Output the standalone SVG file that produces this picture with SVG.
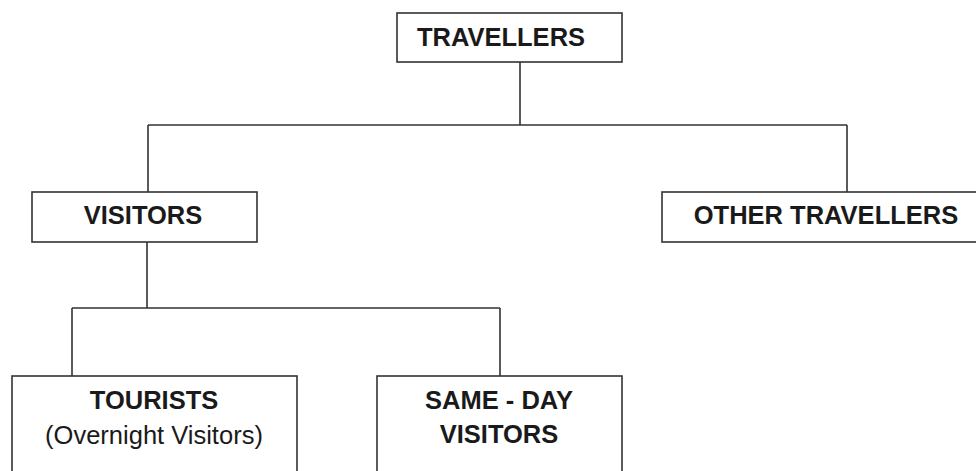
<svg xmlns="http://www.w3.org/2000/svg" width="976" height="471" viewBox="0 0 976 471">
<style>
.box{fill:#fff;stroke:#333;stroke-width:1.6}
.ln{fill:none;stroke:#333;stroke-width:1.6}
.t{font-family:"Liberation Sans",Arial,sans-serif;font-size:25.5px;fill:#1a1a1a;text-anchor:middle}
.b{font-weight:bold}
</style>
<rect width="976" height="471" fill="#fff"/>
<g id="connectors">
<path class="ln" d="M520 62V125M148 125H847M148 125V192M847 125V192"/>
<path class="ln" d="M147 242V308M72 308H500M72 308V376M500 308V376"/>
</g>
<g id="travellers">
<rect class="box" x="397" y="13" width="225" height="49"/>
<text class="t b" x="501" y="46">TRAVELLERS</text>
</g>
<g id="visitors">
<rect class="box" x="32" y="192" width="225" height="50"/>
<text class="t b" x="143" y="224">VISITORS</text>
</g>
<g id="other-travellers">
<rect class="box" x="662" y="192" width="330" height="50"/>
<text class="t b" x="826" y="224">OTHER TRAVELLERS</text>
</g>
<g id="tourists">
<rect class="box" x="12" y="376" width="285" height="110"/>
<text class="t b" x="154" y="409">TOURISTS</text>
<text class="t" x="154" y="444">(Overnight Visitors)</text>
</g>
<g id="same-day-visitors">
<rect class="box" x="377" y="376" width="245" height="110"/>
<text class="t b" x="499" y="409">SAME - DAY</text>
<text class="t b" x="499" y="443">VISITORS</text>
</g>
</svg>
